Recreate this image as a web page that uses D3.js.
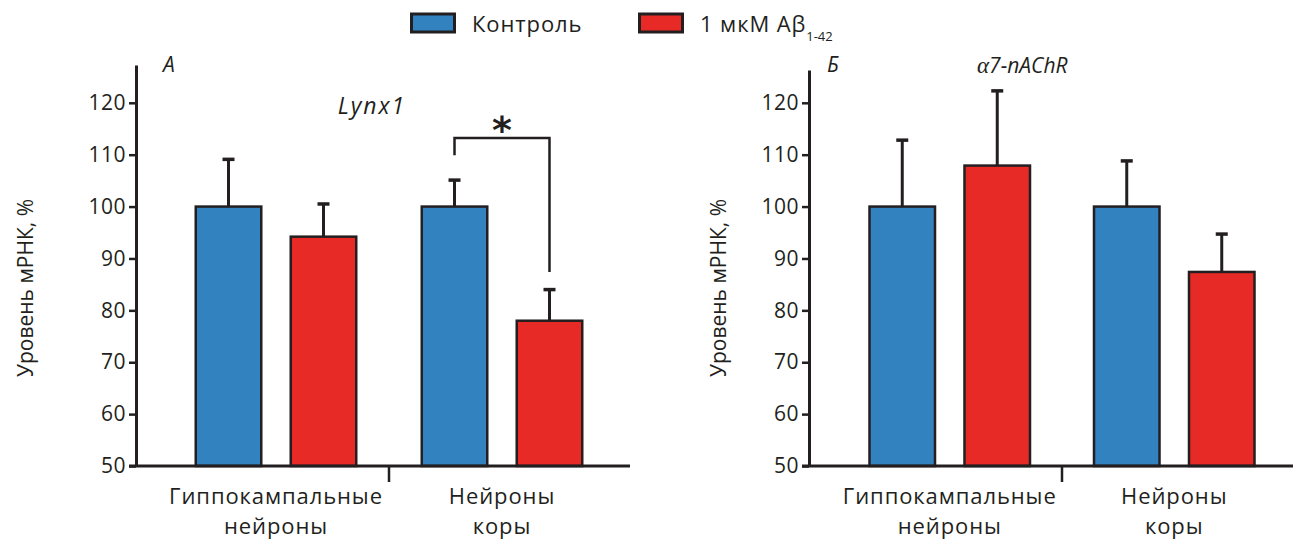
<!DOCTYPE html>
<html>
<head>
<meta charset="utf-8">
<script src="https://cdn.jsdelivr.net/npm/d3@7"></script>
<style>
  body { margin: 0; background: #fff; }
  svg text { font-family: "Open Sans", Lato, sans-serif; fill: #231f20; }
</style>
</head>
<body>
<svg width="1293" height="542"></svg>
<script>
// data
const categories = [['Гиппокампальные', 'нейроны'], ['Нейроны', 'коры']];
const seriesNames = ['Контроль', '1 мкМ Aβ'];
const seriesColors = ['#3282c0', '#e82a27'];
const yTicks = [50, 60, 70, 80, 90, 100, 110, 120];

// panel A: Lynx1
const lynxControl = [100, 100];
const lynxControlErr = [9.1, 5.1];
const lynxAbeta = [94.2, 78.0];
const lynxAbetaErr = [6.3, 6.0];

// panel Б: a7-nAChR
const a7Control = [100, 100];
const a7ControlErr = [12.8, 8.8];
const a7Abeta = [107.9, 87.4];
const a7AbetaErr = [14.4, 7.3];

const svg = d3.select('svg');
const ink = '#231f20';

const panels = [
    {
        letter: 'А', gene: 'Lynx1', geneX: 372, geneY: 114,
        axisX: 136, axisTop: 127.3, xEnd: 630, band: [163, 615], letterX: 163,
        values: [lynxControl, lynxAbeta], errs: [lynxControlErr, lynxAbetaErr],
        labelX: 25, sig: true
    },
    {
        letter: 'Б', gene: '7-nAChR', geneX: 977, geneY: 73,
        axisX: 809, axisTop: 126.3, xEnd: 1293, band: [837.5, 1286.5], letterX: 827,
        values: [a7Control, a7Abeta], errs: [a7ControlErr, a7AbetaErr],
        labelX: 718, sig: false
    }
];

const yScale = d3.scaleLinear().domain([50, 120]).range([466, 102.8]);

panels.forEach(function(p) {
    const g = svg.append('g');

    const xGroup = d3.scaleBand().domain([0, 1]).range(p.band);
    const xInner = d3.scaleBand().domain([0, 1])
        .range([-81.5, 81.5]).paddingInner(0.284);

    // bars
    [0, 1].forEach(function(s) {
        const vals = p.values[s];
        const errs = p.errs[s];
        const cx = (d, i) => xGroup(i) + xGroup.bandwidth() / 2 + xInner(s) + xInner.bandwidth() / 2;

        g.append('g')
            .selectAll('line')
            .data(vals)
            .enter()
            .append('line')
            .attr('x1', cx).attr('x2', cx)
            .attr('y1', d => yScale(d))
            .attr('y2', (d, i) => yScale(d + errs[i]))
            .attr('stroke', ink).attr('stroke-width', 3);

        g.append('g')
            .selectAll('line')
            .data(vals)
            .enter()
            .append('line')
            .attr('x1', (d, i) => cx(d, i) - 6).attr('x2', (d, i) => cx(d, i) + 6)
            .attr('y1', (d, i) => yScale(d + errs[i]))
            .attr('y2', (d, i) => yScale(d + errs[i]))
            .attr('stroke', ink).attr('stroke-width', 3.5);

        g.append('g')
            .selectAll('rect')
            .data(vals)
            .enter()
            .append('rect')
            .attr('x', (d, i) => xGroup(i) + xGroup.bandwidth() / 2 + xInner(s) + 1.25)
            .attr('width', xInner.bandwidth() - 2.5)
            .attr('y', d => yScale(d))
            .attr('height', d => yScale(50) - yScale(d))
            .attr('fill', seriesColors[s])
            .attr('stroke', ink)
            .attr('stroke-width', 2.5);
    });

    // y axis
    const yAxisScale = d3.scaleLinear().domain([50, p.axisTop])
        .range([yScale(50), yScale(p.axisTop)]);
    const yAxis = g.append('g')
        .attr('transform', `translate(${p.axisX},0)`)
        .call(d3.axisLeft(yAxisScale).tickValues(yTicks).tickSize(7).tickSizeOuter(0).tickPadding(3));
    yAxis.select('.domain').attr('stroke', ink).attr('stroke-width', 3);
    yAxis.selectAll('.tick line').attr('stroke', ink).attr('stroke-width', 2.5);
    yAxis.selectAll('.tick text')
        .style('font-size', '21px')
        .style('font-family', '"Open Sans", sans-serif')
        .style('letter-spacing', '0.5px')
        .attr('fill', ink);

    // x axis line and group divider
    g.append('line')
        .attr('x1', p.axisX - 7).attr('x2', p.xEnd)
        .attr('y1', yScale(50)).attr('y2', yScale(50))
        .attr('stroke', ink).attr('stroke-width', 3);
    const divX = xGroup(1);
    g.append('line')
        .attr('x1', divX).attr('x2', divX)
        .attr('y1', yScale(50)).attr('y2', yScale(50) + 16)
        .attr('stroke', ink).attr('stroke-width', 2.5);

    // category labels
    categories.forEach(function(lines, i) {
        const t = g.append('text')
            .attr('x', xGroup(i) + xGroup.bandwidth() / 2)
            .attr('y', 504)
            .style('text-anchor', 'middle')
            .style('font-size', '22px')
            .style('letter-spacing', '0.9px');
        lines.forEach(function(l, j) {
            t.append('tspan')
                .attr('x', xGroup(i) + xGroup.bandwidth() / 2)
                .attr('dy', j === 0 ? 0 : 30)
                .text(l);
        });
    });

    // y label
    g.append('text')
        .attr('transform', `translate(${p.labelX + 8},288) rotate(-90)`)
        .style('text-anchor', 'middle')
        .style('font-size', '21px')
        .text('Уровень мРНК, %');

    // panel letter and gene name
    g.append('text')
        .attr('x', p.letterX).attr('y', 72)
        .style('font-size', '21px').style('font-style', 'italic')
        .text(p.letter);
    const gene = g.append('text')
        .attr('x', p.geneX).attr('y', p.geneY)
        .style('text-anchor', p.sig ? 'middle' : 'start')
        .style('font-size', p.sig ? '23px' : '21px').style('font-style', 'italic')
        .style('letter-spacing', p.sig ? '2px' : '0px');
    if (!p.sig) {
        gene.append('tspan')
            .style('font-family', '"Liberation Serif", serif')
            .style('font-size', '23px')
            .text('α');
    }
    gene.append('tspan').text(p.gene);

    // significance bracket
    if (p.sig) {
        const xl = xGroup(1) + xGroup.bandwidth() / 2 + xInner(0) + xInner.bandwidth() / 2;
        const xr = xGroup(1) + xGroup.bandwidth() / 2 + xInner(1) + xInner.bandwidth() / 2;
        const top = yScale(113.2);
        g.append('path')
            .attr('d', `M${xl},${yScale(109.9)}V${top}H${xr}V${yScale(87.4)}`)
            .attr('fill', 'none').attr('stroke', ink).attr('stroke-width', 2.5);
        g.append('text')
            .attr('x', (xl + xr) / 2).attr('y', top + 5)
            .style('text-anchor', 'middle')
            .style('font-family', '"DejaVu Sans", sans-serif')
            .style('font-size', '38px').style('font-weight', 'bold')
            .text('*');
    }
});

// legend
const legend = svg.append('g');
const legendX = [410, 638];
seriesNames.forEach(function(name, i) {
    legend.append('rect')
        .attr('x', legendX[i] + 1.5).attr('y', 14)
        .attr('width', 43).attr('height', 18)
        .attr('fill', seriesColors[i])
        .attr('stroke', ink).attr('stroke-width', 3);
    const t = legend.append('text')
        .attr('x', legendX[i] + 62).attr('y', 32)
        .style('font-size', '22px')
        .style('letter-spacing', '0.9px')
        .text(name);
    if (i === 1) {
        t.append('tspan')
            .attr('dy', 9)
            .style('font-size', '13px')
            .style('letter-spacing', '0px')
            .text('1-42');
    }
});
</script>
</body>
</html>
